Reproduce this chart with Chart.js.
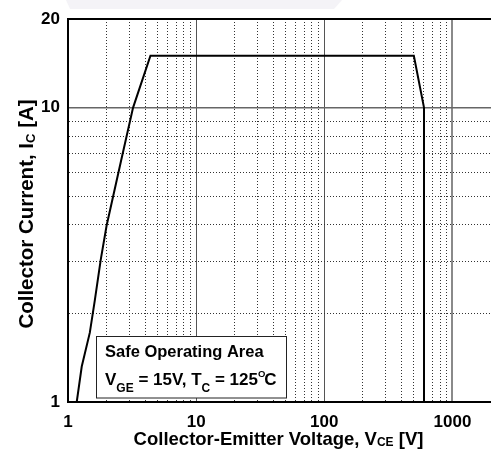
<!DOCTYPE html>
<html>
<head>
<meta charset="utf-8">
<script src="https://cdn.jsdelivr.net/npm/chart.js@4/dist/chart.umd.min.js"></script>
<style>
  html, body { margin: 0; padding: 0; background: #ffffff; }
  #wrap { width: 491px; height: 462px; position: relative; }
</style>
</head>
<body>
<div id="wrap"><canvas id="c" width="491" height="462"></canvas></div>
<script>
// ---- data ----
const voltageV = [1.17, 1.28, 1.48, 1.62, 1.80, 2.00, 2.59, 3.22, 4.40, 500, 600, 600];
const currentA = [1, 1.32, 1.72, 2.22, 3.04, 3.97, 6.57, 10, 15, 15, 10, 1];

const xTickValues = [1,2,3,4,5,6,7,8,9,10,20,30,40,50,60,70,80,90,100,200,300,400,500,600,700,800,900,1000,2000];
const yTickValues = [1,2,3,4,5,6,7,8,9,10,20];
const xLabelValues = [1, 10, 100, 1000];
const yLabelValues = [1, 10, 20];

const xTitleMain = 'Collector-Emitter Voltage, V';
const xTitleSub = 'CE';
const xTitleEnd = ' [V]';
const yTitleMain = 'Collector Current, I';
const yTitleSub = 'C';
const yTitleEnd = ' [A]';
const noteLine1 = 'Safe Operating Area';
const noteParts = [
  ['V', 'n'], ['GE', 'sub'], [' = 15V, T', 'n'], ['C', 'sub'], [' = 125', 'n'], ['O', 'sup'], ['C', 'n']
];

const FONT = '"Liberation Sans", Arial, Helvetica, sans-serif';

const points = voltageV.map((v, i) => ({ x: v, y: currentA[i] }));

function isDecade(v) {
  const l = Math.log10(v);
  return Math.abs(l - Math.round(l)) < 1e-9;
}

const decorPlugin = {
  id: 'decor',
  beforeDraw(chart) {
    const ctx = chart.ctx;
    ctx.save();
    ctx.fillStyle = '#ffffff';
    ctx.fillRect(0, 0, chart.width, chart.height);
    // faint scan band at the top
    ctx.fillStyle = '#f4f3f7';
    ctx.beginPath();
    ctx.moveTo(66, 0); ctx.lineTo(342, 0); ctx.lineTo(334, 9); ctx.lineTo(70, 9);
    ctx.closePath(); ctx.fill();
    ctx.restore();
  },
  afterDraw(chart) {
    const ctx = chart.ctx;
    ctx.save();
    ctx.fillStyle = '#000';
    ctx.textBaseline = 'alphabetic';
    ctx.textAlign = 'left';

    // X title
    const bigX = 'bold 18.5px ' + FONT;
    const smallX = 'bold 12px ' + FONT;
    ctx.font = bigX;
    const w1 = ctx.measureText(xTitleMain).width;
    const w3 = ctx.measureText(xTitleEnd).width;
    ctx.font = smallX;
    const w2 = ctx.measureText(xTitleSub).width;
    const x0 = 278.5 - (w1 + w2 + w3) / 2;
    const by = 444.5;
    ctx.font = bigX; ctx.fillText(xTitleMain, x0, by);
    ctx.font = smallX; ctx.fillText(xTitleSub, x0 + w1, by + 1);
    ctx.font = bigX; ctx.fillText(xTitleEnd, x0 + w1 + w2, by);

    // Y title (rotated)
    const bigY = 'bold 20.5px ' + FONT;
    const smallY = 'bold 13px ' + FONT;
    ctx.save();
    ctx.translate(32.5, 214);
    ctx.rotate(-Math.PI / 2);
    ctx.font = bigY;
    const y1 = ctx.measureText(yTitleMain).width;
    const y3 = ctx.measureText(yTitleEnd).width;
    ctx.font = smallY;
    const y2 = ctx.measureText(yTitleSub).width;
    const s = -(y1 + y2 + y3) / 2;
    ctx.font = bigY; ctx.fillText(yTitleMain, s, 0);
    ctx.font = smallY; ctx.fillText(yTitleSub, s + y1, 2);
    ctx.font = bigY; ctx.fillText(yTitleEnd, s + y1 + y2, 0);
    ctx.restore();

    // annotation box
    ctx.fillStyle = '#ffffff';
    ctx.fillRect(96.5, 336.5, 190, 61.5);
    ctx.strokeStyle = '#222';
    ctx.lineWidth = 1;
    ctx.strokeRect(96.5, 336.5, 190, 61.5);
    ctx.fillStyle = '#000';
    ctx.font = 'bold 16.5px ' + FONT;
    ctx.fillText(noteLine1, 105, 356.5);
    let nx = 105;
    noteParts.forEach(([t, kind]) => {
      if (kind === 'n') { ctx.font = 'bold 17px ' + FONT; ctx.fillText(t, nx, 385); }
      else if (kind === 'sub') { ctx.font = 'bold 12px ' + FONT; ctx.fillText(t, nx, 392); }
      else { ctx.font = 'bold 9.5px ' + FONT; ctx.fillText(t, nx, 376.5); }
      nx += ctx.measureText(t).width - (kind === 'sup' ? 1 : 0);
    });
    ctx.restore();
  }
};

new Chart(document.getElementById('c'), {
  type: 'scatter',
  data: {
    datasets: [{
      data: points,
      showLine: true,
      borderColor: '#000',
      borderWidth: 2,
      pointRadius: 0,
      tension: 0,
      fill: false
    }]
  },
  options: {
    responsive: false,
    animation: false,
    devicePixelRatio: 1,
    layout: { padding: { top: 19, right: 0, bottom: 0, left: 0 } },
    plugins: { legend: { display: false }, tooltip: { enabled: false } },
    scales: {
      x: {
        type: 'logarithmic',
        min: 1, max: 2000,
        afterBuildTicks: (scale) => { scale.ticks = xTickValues.map(v => ({ value: v, major: isDecade(v) })); },
        afterFit: (scale) => {
          scale.height = 60;
          scale.paddingLeft = 0; scale.paddingRight = 0; scale.paddingTop = 0; scale.paddingBottom = 0;
        },
        ticks: {
          autoSkip: false,
          maxRotation: 0,
          padding: 10,
          color: '#000',
          font: { family: FONT, size: 17, weight: 'bold' },
          callback: (v) => xLabelValues.includes(v) ? String(v) : ''
        },
        grid: {
          drawTicks: false,
          color: (c) => {
            const v = c.tick ? c.tick.value : 0;
            if (v === 1 || v === 2000) return 'rgba(0,0,0,0)';
            if (v === 1000) return '#8a8a8a';
            if (isDecade(v)) return '#555';
            return '#333';
          },
          lineWidth: (c) => {
            const v = c.tick ? c.tick.value : 0;
            if (v === 1000) return 2;
            return 1;
          }
        },
        border: {
          display: true,
          color: '#000',
          width: 2,
          dash: (c) => {
            if (!c.tick) return [];
            return isDecade(c.tick.value) ? [] : [1, 2];
          }
        }
      },
      y: {
        type: 'logarithmic',
        min: 1, max: 20,
        afterBuildTicks: (scale) => { scale.ticks = yTickValues.map(v => ({ value: v, major: isDecade(v) })); },
        afterFit: (scale) => {
          scale.width = 68;
          scale.paddingLeft = 0; scale.paddingRight = 0; scale.paddingTop = 0; scale.paddingBottom = 0;
        },
        ticks: {
          autoSkip: false,
          padding: 8,
          color: '#000',
          font: { family: FONT, size: 17, weight: 'bold' },
          callback: (v) => yLabelValues.includes(v) ? String(v) : ''
        },
        grid: {
          drawTicks: false,
          color: (c) => {
            const v = c.tick ? c.tick.value : 0;
            if (v === 1) return 'rgba(0,0,0,0)';
            if (v === 20) return '#000';
            if (v === 10) return '#666';
            return '#333';
          },
          lineWidth: (c) => {
            const v = c.tick ? c.tick.value : 0;
            if (v === 20) return 2;
            if (v === 10) return 1.5;
            return 1;
          }
        },
        border: {
          display: true,
          color: '#000',
          width: 2,
          dash: (c) => {
            if (!c.tick) return [];
            return isDecade(c.tick.value) || c.tick.value === 20 ? [] : [1, 2];
          }
        }
      }
    }
  },
  plugins: [decorPlugin]
});
</script>
</body>
</html>
